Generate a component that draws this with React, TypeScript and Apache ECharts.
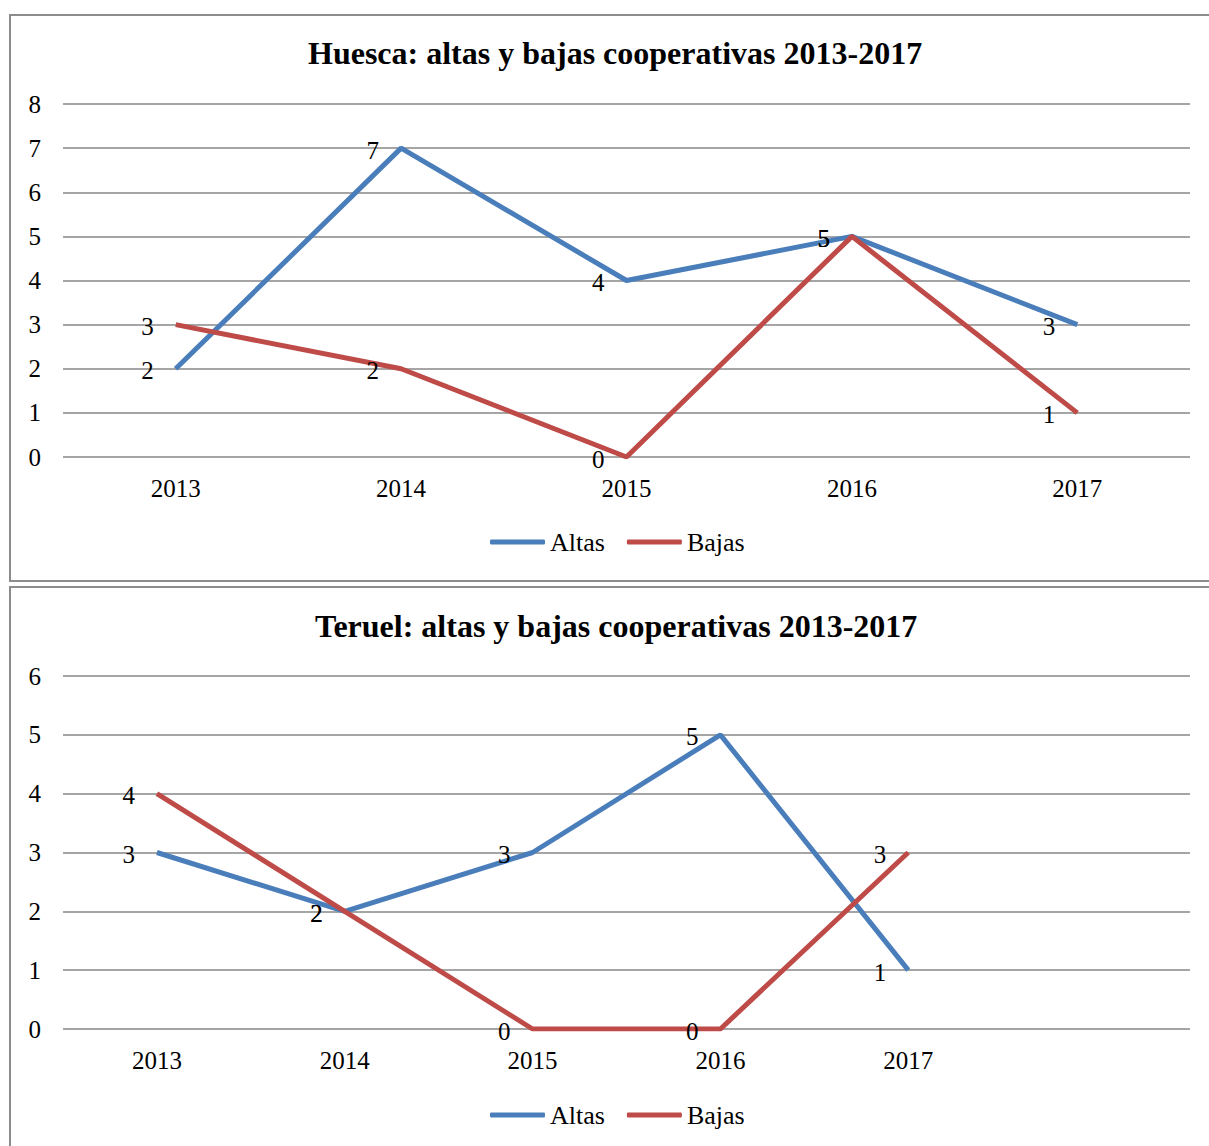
import React, { useEffect, useRef } from "react";
import * as echarts from "echarts";

const years = ["2013", "2014", "2015", "2016", "2017"];
const teruelCategories = [...years, ""];
const huescaAltas = [2, 7, 4, 5, 3];
const huescaBajas = [3, 2, 0, 5, 1];
const teruelAltas = [3, 2, 3, 5, 1];
const teruelBajas = [4, 2, 0, 0, 3];
const huescaTitle = "Huesca: altas y bajas cooperativas 2013-2017";
const teruelTitle = "Teruel: altas y bajas cooperativas 2013-2017";
const seriesNames = ["Altas", "Bajas"];
const huescaMax = 8;
const teruelMax = 6;

const FONT = '"Liberation Serif", "Times New Roman", serif';
const BLUE = "#4A7EBB";
const RED = "#BE4B48";
const GRID = "#878787";
const BORDER = "#8c8c8c";
const OFFSET = 573;

function lineSeries(name: string, data: number[], color: string, idx: number) {
  return {
    name,
    type: "line",
    xAxisIndex: idx,
    yAxisIndex: idx,
    data,
    symbol: "circle",
    symbolSize: 0,
    showSymbol: true,
    lineStyle: { color, width: 5 },
    itemStyle: { color },
    label: {
      show: true,
      position: "left",
      distance: 22,
      offset: [0, 2],
      fontFamily: FONT,
      fontSize: 25,
      color: "#000",
    },
  };
}

function axes(top: number, cats: string[], max: number) {
  const x = {
    type: "category",
    data: cats,
    boundaryGap: true,
    axisLine: { show: false },
    axisTick: { show: false },
    axisLabel: { fontFamily: FONT, fontSize: 25, color: "#000", margin: 19, interval: 0 },
  };
  const y = {
    type: "value",
    min: 0,
    max,
    interval: 1,
    axisLine: { show: false },
    axisTick: { show: false },
    axisLabel: { fontFamily: FONT, fontSize: 25, color: "#000", margin: 22 },
    splitLine: { lineStyle: { color: GRID, width: 1.6 } },
  };
  return { x, y, top };
}

function legend(top: number) {
  return {
    data: seriesNames.map((n) => ({ name: n, icon: "roundRect" })),
    left: 490,
    top,
    padding: 0,
    itemWidth: 55,
    itemHeight: 5,
    itemGap: 22,
    textStyle: { fontFamily: FONT, fontSize: 26, color: "#000" },
  };
}

export default function App() {
  const ref = useRef<HTMLDivElement>(null);
  useEffect(() => {
    if (!ref.current) return;
    const chart = echarts.init(ref.current, null, { renderer: "svg" });
    const a1 = axes(104, years, huescaMax);
    const a2 = axes(104 + OFFSET - 1, teruelCategories, teruelMax);
    chart.setOption({
      animation: false,
      backgroundColor: "#fff",
      title: [
        {
          text: huescaTitle,
          left: 308,
          top: 37,
          padding: 0,
          textStyle: { fontFamily: FONT, fontSize: 32, fontWeight: "bold", color: "#000" },
        },
        {
          text: teruelTitle,
          left: 315,
          top: 37 + OFFSET,
          padding: 0,
          textStyle: { fontFamily: FONT, fontSize: 32, fontWeight: "bold", color: "#000" },
        },
      ],
      legend: [legend(529), legend(529 + OFFSET)],
      grid: [
        { left: 63, right: 19, top: a1.top, height: 353 },
        { left: 63, right: 19, top: a2.top, height: 353 },
      ],
      xAxis: [
        { ...a1.x, gridIndex: 0 },
        { ...a2.x, gridIndex: 1 },
      ],
      yAxis: [
        { ...a1.y, gridIndex: 0 },
        { ...a2.y, gridIndex: 1 },
      ],
      series: [
        lineSeries(seriesNames[0], huescaAltas, BLUE, 0),
        lineSeries(seriesNames[1], huescaBajas, RED, 0),
        lineSeries(seriesNames[0], teruelAltas, BLUE, 1),
        lineSeries(seriesNames[1], teruelBajas, RED, 1),
      ],
      graphic: [
        {
          type: "rect",
          shape: { x: 10, y: 15, width: 1240, height: 566 },
          style: { fill: "none", stroke: BORDER, lineWidth: 2 },
          z: -1,
        },
        {
          type: "rect",
          shape: { x: 10, y: 587, width: 1240, height: 600 },
          style: { fill: "none", stroke: BORDER, lineWidth: 2 },
          z: -1,
        },
      ],
    });
    return () => chart.dispose();
  }, []);
  return (
    <div
      ref={ref}
      style={{ position: "absolute", left: 0, top: 0, width: 1209, height: 1146 }}
    />
  );
}
